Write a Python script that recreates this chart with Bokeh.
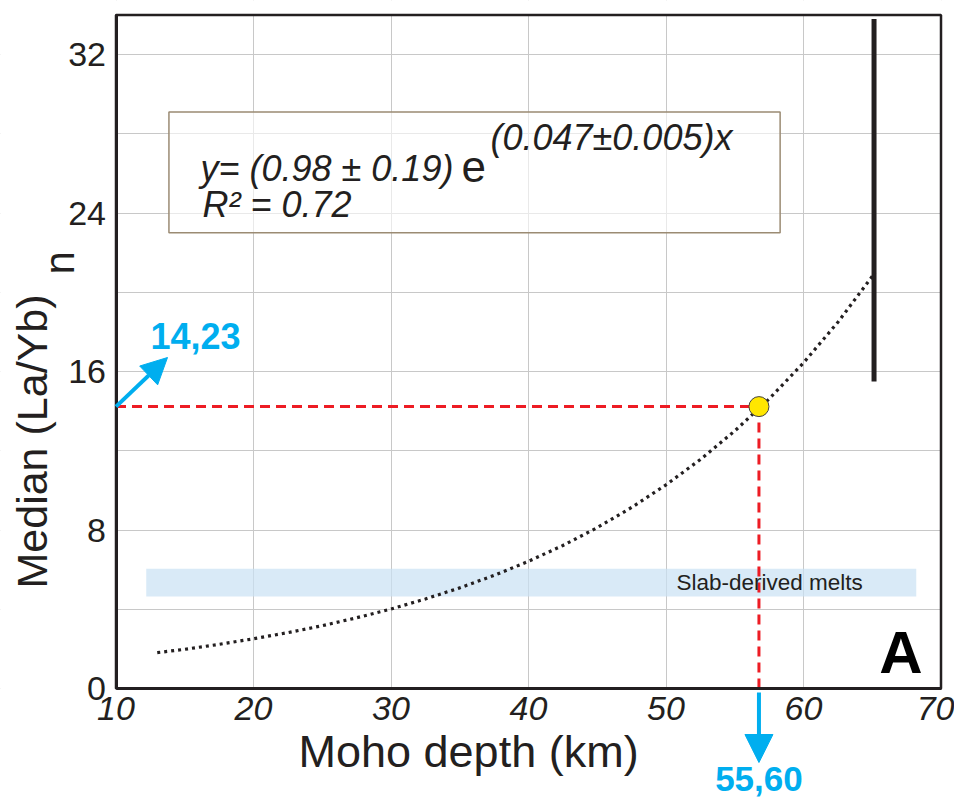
from bokeh.plotting import figure
from bokeh.models import Label, Arrow, NormalHead, BoxAnnotation, Range1d, FixedTicker
from bokeh.embed import file_html
from bokeh.resources import INLINE

# ---- data ----
x_ticks = [10, 20, 30, 40, 50, 60, 70]
y_ticks = [0, 8, 16, 24, 32]
y_minor = [4, 12, 20, 28]
x_lim = (10, 70)
y_lim = (0, 34)

# fitted curve y = (0.98) e^(0.047 x), read as drawn
depth = [13.0, 15.0, 17.5, 20.0, 22.5, 25.0, 27.5, 30.0, 32.5, 35.0, 37.5, 40.0,
         42.5, 45.0, 47.5, 50.0, 52.5, 55.0, 57.5, 60.0, 62.5, 65.2]
layb = [1.81, 1.98, 2.23, 2.51, 2.82, 3.17, 3.57, 4.01, 4.52, 5.08, 5.71, 6.42,
        7.22, 8.12, 9.14, 10.28, 11.56, 13.00, 14.62, 16.44, 18.49, 20.99]

point_x = [56.76]
point_y = [14.23]

bar_x = [65.13]
bar_y0 = [15.5]
bar_y1 = [33.8]

slab_x = [12.2, 68.2]
slab_y = [4.65, 6.05]

eq_box_x = [13.85, 58.3]
eq_box_y = [23.0, 29.1]

FONT = "Liberation Sans"
DARK = "#231f20"
BLUE = "#00aeef"
RED = "#ed1c24"
GRID = "#c8c8c8"

W, H = 954, 799
# pixel placement of the plot box on the page
X0PX, XS = 115.5, 13.75     # px of x=10, px per km
Y0PX, YS = 688.0, 19.81     # px of y=0, px per unit

def fx(px):
    return x_lim[0] + (px - X0PX) / XS

def fy(py):
    return (Y0PX - py) / YS

p = figure(width=W, height=H, title=None,
           x_range=Range1d(fx(0), fx(W)), y_range=Range1d(fy(H), fy(0)),
           output_backend="svg", toolbar_location=None,
           min_border_left=0, min_border_right=0, min_border_top=0, min_border_bottom=0,
           background_fill_color="white", border_fill_color="white")
p.outline_line_color = None

p.xaxis.ticker = FixedTicker(ticks=x_ticks)
p.yaxis.ticker = FixedTicker(ticks=y_ticks, minor_ticks=y_minor)
p.xaxis.fixed_location = y_lim[0]
p.yaxis.fixed_location = x_lim[0]
p.xaxis.bounds = x_lim
p.yaxis.bounds = y_lim
for ax in (p.xaxis[0], p.yaxis[0]):
    ax.major_tick_out = 0
    ax.major_tick_in = 0
    ax.minor_tick_out = 0
    ax.minor_tick_in = 0
    ax.axis_line_color = DARK
    ax.axis_line_width = 3
    ax.major_label_text_font = FONT
    ax.major_label_text_font_size = "34px"
    ax.major_label_text_color = DARK
p.xaxis.major_label_text_font_style = "italic"
p.xaxis.major_label_standoff = 8
p.yaxis.major_label_standoff = 10

p.xgrid.grid_line_color = GRID
p.ygrid.grid_line_color = GRID
p.ygrid.minor_grid_line_color = GRID
p.xgrid.grid_line_width = 1
p.ygrid.grid_line_width = 1

# keep grid lines inside the plot box
for kw in (dict(right=x_lim[0]), dict(left=x_lim[1]), dict(top=y_lim[0]), dict(bottom=y_lim[1])):
    p.add_layout(BoxAnnotation(fill_color="white", fill_alpha=1.0, line_color=None,
                               level="underlay", **kw))

# slab-derived melts band
p.add_layout(BoxAnnotation(left=slab_x[0], right=slab_x[1], bottom=slab_y[0], top=slab_y[1],
                           fill_color="#c9e1f3", fill_alpha=0.7, line_color=None, level="underlay"))

# fitted curve
p.line(depth, layb, line_color=DARK, line_width=3.2, line_dash="3 4")

# red dashed guide lines
p.line([x_lim[0], point_x[0]], [point_y[0], point_y[0]], line_color=RED, line_width=3, line_dash="10 6")
p.line([point_x[0], point_x[0]], [point_y[0], y_lim[0]], line_color=RED, line_width=3, line_dash="10 6")

# black vertical bar
p.segment(x0=bar_x, y0=bar_y0, x1=bar_x, y1=bar_y1, line_color=DARK, line_width=5)

# point
p.scatter(point_x, point_y, size=20, fill_color="#ffe600", line_color="#444444", line_width=1)

# plot box outline
p.add_layout(BoxAnnotation(left=x_lim[0], right=x_lim[1], bottom=y_lim[0], top=y_lim[1],
                           fill_alpha=0, line_color=DARK, line_alpha=1.0, line_width=2.5))

# equation box
p.add_layout(BoxAnnotation(left=eq_box_x[0], right=eq_box_x[1], bottom=eq_box_y[0], top=eq_box_y[1],
                           fill_color="white", fill_alpha=0.6, line_color="#9b8b73", line_alpha=1.0,
                           line_width=1.5))

BASE_SHIFT = 0.35  # correction of the rendered alphabetic baseline, in em

def lab(text, xpx, base_px, size, style="normal", color=DARK, align="left", angle=0):
    if angle == 0:
        x, y = fx(xpx), fy(base_px - BASE_SHIFT * size)
    else:
        x, y = fx(base_px - BASE_SHIFT * size), fy(xpx)
    p.add_layout(Label(x=x, y=y, text=text, text_font=FONT, text_font_size=f"{size}px",
                       text_font_style=style, text_color=color, text_align=align,
                       text_baseline="alphabetic", angle=angle, angle_units="deg"))

lab("y= (0.98 ± 0.19)", 200, 181, 36, "italic")
lab("e", 461, 181, 44)
lab("(0.047±0.005)x", 490, 150, 36, "italic")
lab("R² = 0.72", 202, 217, 36, "italic")

lab("Slab-derived melts", 676, 590, 22.5)
lab("A", 922, 673, 60, "bold", color="black", align="right")

# blue arrows + values
p.add_layout(Arrow(x_start=x_lim[0], y_start=point_y[0], x_end=fx(167), y_end=fy(357),
                   line_color=BLUE, line_width=4,
                   end=NormalHead(size=26, fill_color=BLUE, line_color=BLUE)))
lab("14,23", 150, 348, 36, "bold", color=BLUE)

p.add_layout(Arrow(x_start=point_x[0], y_start=fy(692), x_end=point_x[0], y_end=fy(762),
                   line_color=BLUE, line_width=4,
                   end=NormalHead(size=28, fill_color=BLUE, line_color=BLUE)))
lab("55,60", X0PX + (point_x[0] - x_lim[0]) * XS, 791, 35, "bold", color=BLUE, align="center")

# axis titles
lab("Moho depth (km)", 298, 767, 45)
lab("Median (La/Yb)", 588, 47, 43, angle=90)
lab("n", 274, 74, 42, angle=90)

open("out.html", "w").write(file_html(p, INLINE))
